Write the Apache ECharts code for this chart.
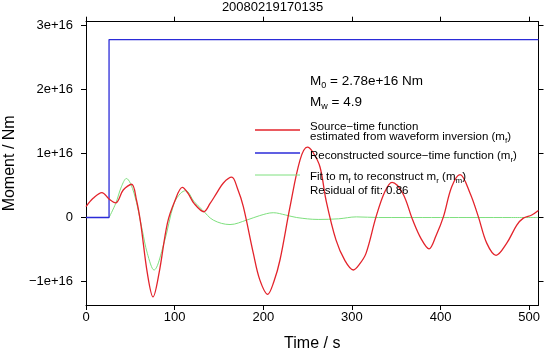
<!DOCTYPE html>
<html>
<head>
<meta charset="utf-8">
<script src="https://cdn.jsdelivr.net/npm/echarts@6/dist/echarts.min.js"></script>
<style>
  html, body { margin: 0; padding: 0; background: #fff; }
  #main { width: 545px; height: 353px; }
</style>
</head>
<body>
<div id="main"></div>
<script>
// moment values are kept in units of 1e16 Nm
var redTime = [0, 8, 18, 26, 33.5, 42, 51.5, 57, 61.7, 69.2, 75.6, 82.4, 91.8, 100, 108.7, 115, 121.9, 133, 140, 147.4, 155, 164.4, 171, 177.5, 188.8, 196, 205, 212, 218.9, 230.2, 241.5, 249.7, 256, 264, 270.8, 282, 292, 301.6, 308, 315.9, 327.2, 337, 345.3, 357.3, 368.6, 378, 387, 395, 403.2, 412.6, 422, 433.3, 442.7, 452.1, 462.6, 474.7, 486, 493.4, 502.9, 510.4];
var redValue = [0.17, 0.30, 0.39, 0.29, 0.23, 0.43, 0.52, 0.27, -0.09, -0.87, -1.24, -0.87, -0.09, 0.25, 0.47, 0.38, 0.22, 0.09, 0.22, 0.38, 0.54, 0.63, 0.45, 0.17, -0.56, -0.97, -1.20, -1.0, -0.66, 0.17, 0.90, 1.10, 1.02, 0.79, 0.27, -0.35, -0.67, -0.82, -0.74, -0.56, 0.01, 0.40, 0.55, 0.38, -0.04, -0.33, -0.49, -0.28, 0.01, 0.48, 0.67, 0.38, 0.01, -0.40, -0.59, -0.40, -0.12, -0.01, 0.04, 0.11];

var greenTime = [26, 33.5, 39.9, 45.5, 54.2, 63.5, 69.2, 76.7, 88, 99.3, 106.8, 112.5, 121.9, 131.2, 143.6, 162.5, 181.3, 196, 211.3, 225, 237.7, 262, 285, 305, 330, 360, 400, 440, 480, 510];
var greenValue = [0, 0.22, 0.48, 0.61, 0.38, -0.20, -0.56, -0.82, -0.40, 0.22, 0.38, 0.42, 0.25, 0.12, -0.04, -0.11, -0.04, 0.03, 0.075, 0.04, 0, -0.03, -0.02, 0.01, 0, 0, 0, 0, 0, 0];

var blueTime = [0, 26, 26, 510.5];
var blueValue = [0, 0, 2.78, 2.78];

var xTicks = [0, 100, 200, 300, 400, 500];
var yTicks = [-1, 0, 1, 2, 3];
var yTickLabels = ['\u22121e+16', '0', '1e+16', '2e+16', '3e+16'];

function pairs(t, v) {
  return t.map(function (x, i) { return [x, v[i]]; });
}

var font = 'Liberation Sans, Arial, sans-serif';
var myChart = echarts.init(document.getElementById('main'));

var xBase = {
  type: 'value',
  min: 0,
  max: 510.5,
  splitLine: { show: false },
  axisLine: { onZero: false, lineStyle: { color: '#000', width: 1 } },
  axisTick: { length: 5, customValues: xTicks, lineStyle: { color: '#000' } },
  axisLabel: { customValues: xTicks, color: '#000', fontSize: 13, fontFamily: font, margin: 6 }
};
var yBase = {
  type: 'value',
  min: -1.367,
  max: 3.06,
  splitLine: { show: false },
  axisLine: { onZero: false, lineStyle: { color: '#000', width: 1 } },
  axisTick: { length: 5, customValues: yTicks, lineStyle: { color: '#000' } },
  axisLabel: {
    customValues: yTicks, color: '#000', fontSize: 13, fontFamily: font, margin: 13,
    formatter: function (v) { return yTickLabels[yTicks.indexOf(Math.round(v))]; }
  }
};

var legendText = {
  fontFamily: font, fill: '#000', textVerticalAlign: 'middle',
  rich: {
    b: { fontSize: 13.5, fontFamily: font, lineHeight: 18 },
    bs: { fontSize: 9, fontFamily: font, lineHeight: 18, verticalAlign: 'bottom' },
    s: { fontSize: 11.5, fontFamily: font, lineHeight: 15 },
    ss: { fontSize: 8, fontFamily: font, lineHeight: 15, verticalAlign: 'bottom' }
  }
};
function txt(y, text) {
  return { type: 'text', left: 310, top: y, silent: true, z: 100,
    style: Object.assign({ text: text }, legendText) };
}
function seg(y, color, w) {
  return { type: 'line', silent: true, z: 100,
    shape: { x1: 255, y1: y, x2: 300, y2: y }, style: { stroke: color, lineWidth: w } };
}

var option = {
  animation: false,
  backgroundColor: '#fff',
  title: {
    text: '20080219170135',
    left: 'center',
    top: 1,
    padding: 0,
    textStyle: { fontSize: 13, fontWeight: 'normal', color: '#000', fontFamily: font }
  },
  grid: { left: 86, right: 6.5, top: 21.7, bottom: 48, outerBoundsMode: 'none' },
  xAxis: [
    Object.assign({}, xBase, {
      position: 'bottom', name: 'Time / s', nameLocation: 'middle', nameGap: 31,
      nameTextStyle: { fontSize: 16, color: '#000', fontFamily: font }
    }),
    Object.assign({}, xBase, { position: 'top', axisLabel: { show: false } })
  ],
  yAxis: [
    Object.assign({}, yBase, {
      position: 'left', name: 'Moment / Nm', nameLocation: 'middle', nameGap: 62,
      nameTextStyle: { fontSize: 16, color: '#000', fontFamily: font }
    }),
    Object.assign({}, yBase, { position: 'right', axisLabel: { show: false } })
  ],
  graphic: [
    txt(74, '{b|M}{bs|0}{b| = 2.78e+16 Nm}'),
    txt(95, '{b|M}{bs|w}{b| = 4.9}'),
    txt(121, '{s|Source\u2212time function}'),
    txt(131, '{s|estimated from waveform inversion (m}{ss|f}{s|)}'),
    txt(150, '{s|Reconstructed source\u2212time function (m}{ss|r}{s|)}'),
    txt(171, '{s|Fit to m}{ss|f}{s| to reconstruct m}{ss|r}{s| (m}{ss|m}{s|)}'),
    txt(185, '{s|Residual of fit: 0.86}'),
    seg(130, '#e3232b', 1.3),
    seg(153, '#2b2bd8', 1.3),
    seg(175, '#7ee07e', 1)
  ],
  series: [
    {
      name: 'fit', type: 'line', data: pairs(greenTime, greenValue),
      smooth: 0.35, symbol: 'none', lineStyle: { color: '#7ee07e', width: 1 }, z: 2
    },
    {
      name: 'reconstructed', type: 'line', data: pairs(blueTime, blueValue),
      symbol: 'none', lineStyle: { color: '#2b2bd8', width: 1.3 }, z: 3
    },
    {
      name: 'estimated', type: 'line', data: pairs(redTime, redValue),
      smooth: 0.35, symbol: 'none', lineStyle: { color: '#e3232b', width: 1.3 }, z: 4
    }
  ]
};
myChart.setOption(option);
</script>
</body>
</html>
